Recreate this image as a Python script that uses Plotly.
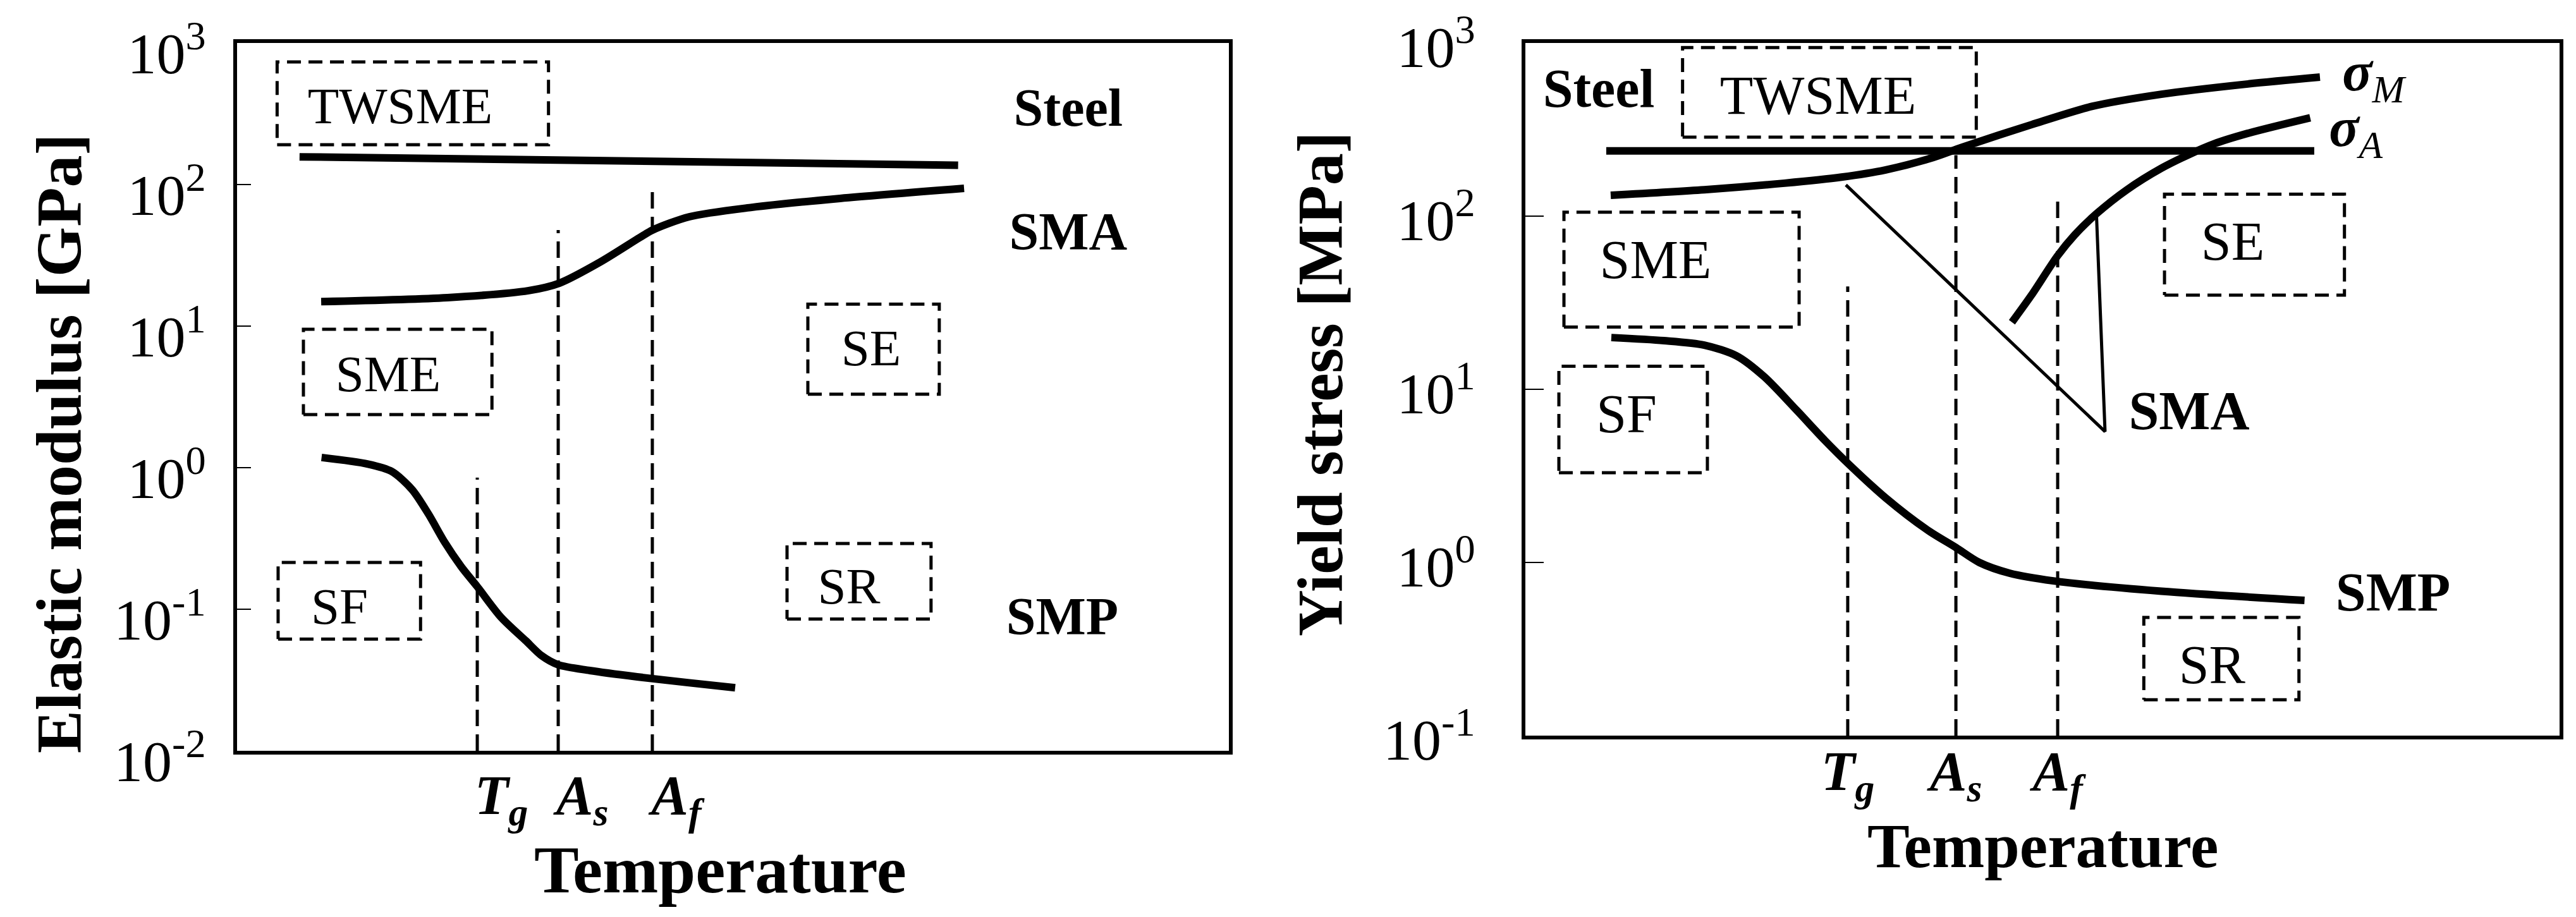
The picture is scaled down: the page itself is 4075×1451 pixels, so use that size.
import plotly.graph_objects as go

# ================= DATA =================
# common
temp_labels = ["<i>T<sub>g</sub></i>", "<i>A<sub>s</sub></i>", "<i>A<sub>f</sub></i>"]
region_names = ["TWSME", "SME", "SF", "SE", "SR"]
material_names = ["Steel", "SMA", "SMP"]
sigma_names = ["<b><i>σ</i></b><sub><i>M</i></sub>", "<b><i>σ</i></b><sub><i>A</i></sub>"]

# ---- left panel: Elastic modulus [GPa] ----
yL_tickvals = [1e-2, 1e-1, 1e0, 1e1, 1e2, 1e3]
yL_ticktext = ["10<sup>-2</sup>", "10<sup>-1</sup>", "10<sup>0</sup>", "10<sup>1</sup>", "10<sup>2</sup>", "10<sup>3</sup>"]

steel_L_x = [6.3, 72.7]
steel_L_y = [157, 137]
sma_L_x = [8.48, 21.2, 29.4, 32.5, 36.6, 40.6, 41.9, 45.6, 51.9, 60.8, 73.3]
sma_L_y = [14.9, 15.9, 17.8, 20.1, 28.3, 42.2, 47.7, 59.2, 69.0, 79.8, 94.0]
smp_L_x = [8.52, 13.2, 15.6, 17.65, 19.3, 20.9, 22.6, 24.2, 26.6, 29.1, 30.7, 32.38, 35.56, 40.34, 45.44, 50.22]
smp_L_y = [1.18, 1.06, 0.94, 0.70, 0.47, 0.30, 0.20, 0.145, 0.088, 0.060, 0.047, 0.0405, 0.0369, 0.0333, 0.0303, 0.0279]

marks_L_x = [24.22, 32.38, 41.87]
marks_L_top = [0.85, 47.7, 95.0]

boxL_x0 = [4.04, 6.69, 4.14, 57.55, 55.45]
boxL_x1 = [31.4, 25.7, 18.5, 70.8, 69.97]
boxL_lo = [191, 2.37, 0.0616, 3.30, 0.0853]
boxL_hi = [735, 9.5, 0.214, 14.3, 0.291]
lblL_x = [16.44, 15.23, 10.33, 63.93, 61.7]
lblL_y = [333, 4.26, 0.097, 6.49, 0.1346]

matL_x = [83.8, 83.8, 83.2]
matL_y = [323, 43, 0.082]

# ---- right panel: Yield stress [MPa] ----
yR_tickvals = [1e-1, 1e0, 1e1, 1e2, 1e3]
yR_ticktext = ["10<sup>-1</sup>", "10<sup>0</sup>", "10<sup>1</sup>", "10<sup>2</sup>", "10<sup>3</sup>"]

steel_R_x = [7.82, 76.28]
steel_R_y = [238, 238]
sigM_x = [8.25, 17.3, 25.06, 30.56, 34.84, 39.43, 42.24, 48.96, 54.83, 61.49, 69.87, 76.83]
sigM_y = [132, 142, 155, 168, 185, 218, 250, 338, 431, 506, 580, 635]
sigA_x = [47.05, 48.94, 51.45, 53.12, 55.23, 58.16, 61.49, 64.24, 66.54, 69.87, 75.89]
sigA_y = [24.4, 35.0, 58.9, 78.0, 103.4, 142, 189, 228, 261, 301, 370]
smp_R_x = [8.31, 13.39, 17.30, 20.42, 23.11, 26.22, 28.97, 31.30, 34.84, 38.81, 41.63, 43.89, 46.82, 51.04, 61.49, 75.34]
smp_R_y = [19.9, 19.1, 18.0, 15.6, 11.8, 7.58, 5.06, 3.68, 2.36, 1.55, 1.22, 1.0, 0.867, 0.783, 0.682, 0.604]
pointer_R_x = [30.99, 56.05, 55.23]
pointer_R_y = [151.4, 5.70, 99.2]

marks_R_x = [31.17, 41.63, 51.47]
marks_R_top = [39.3, 225.0, 132.0]

boxR_x0 = [15.2, 3.73, 3.24, 61.8, 59.8]
boxR_x1 = [43.6, 26.47, 17.6, 79.2, 74.8]
boxR_lo = [286, 22.9, 3.30, 35.0, 0.161]
boxR_hi = [942, 105.5, 13.6, 134, 0.481]
lblR_x = [28.3, 12.59, 9.78, 68.4, 66.4]
lblR_y = [466, 52.4, 6.79, 67.3, 0.240]

matR_x = [7.09, 64.18, 83.9]
matR_y = [511, 7.03, 0.63]
sigR_x = [82.0, 80.3]
sigR_y = [640, 305]

# ================= FIGURE =================
W, H = 4075, 1451
FONT = "Liberation Serif"
BLACK = "#000000"

fig = go.Figure()


def curve(x, y, xa, ya, width=12, shape="spline"):
    line = dict(color=BLACK, width=width, shape=shape)
    if shape == "spline":
        line["smoothing"] = 0.8
    fig.add_trace(go.Scatter(x=x, y=y, xaxis=xa, yaxis=ya, mode="lines", line=line,
                             hoverinfo="skip", showlegend=False))


def vlines(xs, tops, bottom, xa, ya):
    for xv, tv in zip(xs, tops):
        fig.add_trace(go.Scatter(x=[xv, xv], y=[bottom, tv], xaxis=xa, yaxis=ya, mode="lines",
                                 line=dict(color=BLACK, width=5, dash="26px,13px"),
                                 hoverinfo="skip", showlegend=False))


def boxes(x0s, x1s, los, his, lx, ly, names, xa, ya, size):
    for a, b, lo, hi in zip(x0s, x1s, los, his):
        fig.add_trace(go.Scatter(x=[a, b, b, a, a], y=[lo, lo, hi, hi, lo], xaxis=xa, yaxis=ya,
                                 mode="lines", line=dict(color=BLACK, width=5, dash="22px,12px"),
                                 hoverinfo="skip", showlegend=False))
    fig.add_trace(go.Scatter(x=lx, y=ly, xaxis=xa, yaxis=ya, mode="text", text=names,
                             textposition="middle center",
                             textfont=dict(family=FONT, size=size, color=BLACK),
                             cliponaxis=False, hoverinfo="skip", showlegend=False))


def labels(x, y, names, xa, ya, size, pos="middle center"):
    fig.add_trace(go.Scatter(x=x, y=y, xaxis=xa, yaxis=ya, mode="text", text=names,
                             textposition=pos,
                             textfont=dict(family=FONT, size=size, color=BLACK, weight="bold"),
                             cliponaxis=False, hoverinfo="skip", showlegend=False))


# left panel
vlines(marks_L_x, marks_L_top, 1e-2, "x", "y")
boxes(boxL_x0, boxL_x1, boxL_lo, boxL_hi, lblL_x, lblL_y, region_names, "x", "y", 81)
curve(steel_L_x, steel_L_y, "x", "y", shape="linear")
curve(sma_L_x, sma_L_y, "x", "y")
curve(smp_L_x, smp_L_y, "x", "y")
labels(matL_x, matL_y, material_names, "x", "y", 84)

# right panel
vlines(marks_R_x, marks_R_top, 1e-1, "x2", "y2")
boxes(boxR_x0, boxR_x1, boxR_lo, boxR_hi, lblR_x, lblR_y, region_names, "x2", "y2", 86)
curve(steel_R_x, steel_R_y, "x2", "y2", shape="linear")
curve(sigM_x, sigM_y, "x2", "y2")
curve(sigA_x, sigA_y, "x2", "y2")
curve(smp_R_x, smp_R_y, "x2", "y2")
curve(pointer_R_x, pointer_R_y, "x2", "y2", width=5, shape="linear")
labels(matR_x, matR_y, material_names, "x2", "y2", 86)
fig.add_trace(go.Scatter(x=sigR_x, y=sigR_y, xaxis="x2", yaxis="y2", mode="text", text=sigma_names,
                         textposition="middle center",
                         textfont=dict(family=FONT, size=88, color=BLACK),
                         cliponaxis=False, hoverinfo="skip", showlegend=False))

frame = dict(showline=True, mirror=True, linewidth=6, linecolor=BLACK,
             showgrid=False, zeroline=False, automargin=False, fixedrange=True,
             ticklabeloverflow="allow")

xtick_font = dict(family=FONT, size=88, color=BLACK, weight="bold")
ytick_font = dict(family=FONT, size=92, color=BLACK)

fig.update_layout(
    width=W, height=H,
    margin=dict(l=0, r=0, t=0, b=0),
    paper_bgcolor="white", plot_bgcolor="white",
    showlegend=False,
    xaxis=dict(domain=[367 / W, 1936 / W], range=[0, 100], anchor="y",
               tickmode="array", tickvals=marks_L_x, ticktext=temp_labels, ticks="",
               tickfont=xtick_font, ticklabelshift=38, ticklabelstandoff=-12, **frame),
    yaxis=dict(domain=[1 - 1180 / H, 1 - 60 / H], type="log", range=[-2, 3.0001], anchor="x",
               tickmode="array", tickvals=yL_tickvals, ticktext=yL_ticktext,
               ticks="inside", ticklen=22, tickwidth=2, tickcolor=BLACK,
               tickfont=ytick_font, ticklabelshift=16, ticklabelstandoff=25, **frame),
    xaxis2=dict(domain=[2405 / W, 4041 / W], range=[0, 100], anchor="y2",
                tickmode="array", tickvals=marks_R_x, ticktext=temp_labels, ticks="",
                tickfont=xtick_font, ticklabelshift=0, ticklabelstandoff=-26, **frame),
    yaxis2=dict(domain=[1 - 1156 / H, 1 - 60 / H], type="log", range=[-1, 3.0001], anchor="x2",
                tickmode="array", tickvals=yR_tickvals, ticktext=yR_ticktext,
                ticks="inside", ticklen=29, tickwidth=2, tickcolor=BLACK,
                tickfont=ytick_font, ticklabelshift=6, ticklabelstandoff=55, **frame),
)

title_font = dict(family=FONT, size=102, color=BLACK, weight="bold")
fig.add_annotation(text="Elastic modulus [GPa]", xref="paper", yref="paper",
                   x=85 / W, y=1 - 694 / H, xanchor="center", yanchor="middle",
                   textangle=-90, showarrow=False, font=title_font)
fig.add_annotation(text="Yield stress [MPa]", xref="paper", yref="paper",
                   x=2080 / W, y=1 - 600 / H, xanchor="center", yanchor="middle",
                   textangle=-90, showarrow=False, font=title_font)
fig.add_annotation(text="Temperature", xref="paper", yref="paper",
                   x=1131 / W, y=1 - 1368 / H, xanchor="center", yanchor="middle",
                   showarrow=False, font=dict(family=FONT, size=106, color=BLACK, weight="bold"))
fig.add_annotation(text="Temperature", xref="paper", yref="paper",
                   x=3223 / W, y=1 - 1330 / H, xanchor="center", yanchor="middle",
                   showarrow=False, font=dict(family=FONT, size=100, color=BLACK, weight="bold"))

fig.write_html("out.html")
